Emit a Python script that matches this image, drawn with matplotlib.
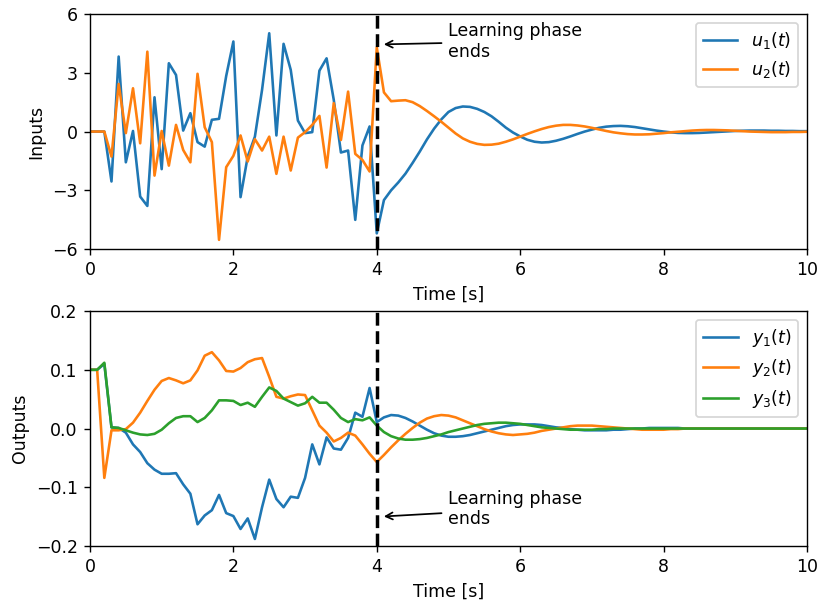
import numpy as np
import matplotlib
matplotlib.use('Agg')
import matplotlib.pyplot as plt

t = np.linspace(0, 10, 101)
t_end = 4.0

u1 = [0, 0, 0, -2.55, 3.83, -1.57, 0.03, -3.32, -3.8, 1.75,
      -1.92, 3.49, 2.89, 0.05, 0.94, -0.54, -0.77, 0.6, 0.65, 2.84,
      4.6, -3.35, -1.28, -0.26, 2.13, 5.02, -0.2, 4.48, 3.15, 0.56,
      -0.08, -0.03, 3.11, 3.74, 1.62, -1.07, -0.97, -4.51, -0.71, 0.26,
      -5.2, -3.5, -3.0, -2.6, -2.15, -1.6, -1.02, -0.4, 0.15, 0.62,
      1.0, 1.2, 1.28, 1.26, 1.16, 1.0, 0.78, 0.5, 0.2, -0.05,
      -0.25, -0.42, -0.52, -0.56, -0.54, -0.47, -0.37, -0.25, -0.12, 0.0,
      0.1, 0.19, 0.25, 0.28, 0.29, 0.27, 0.23, 0.17, 0.11, 0.05,
      0.0, -0.04, -0.07, -0.08, -0.08, -0.07, -0.05, -0.03, -0.01, 0.01,
      0.03, 0.04, 0.05, 0.05, 0.05, 0.04, 0.04, 0.03, 0.03, 0.02, 0.02]

u2 = [0, 0, 0, -1.28, 2.43, -0.08, 2.21, -0.6, 4.08, -2.25,
      0.03, -1.74, 0.34, -0.94, -1.57, 2.95, 0.22, -0.54, -5.53, -1.82,
      -1.24, -0.2, -1.53, -0.39, -0.97, -0.26, -2.16, -0.26, -1.99, -0.31,
      -0.03, 0.34, 0.8, -1.84, 1.45, -0.43, 2.04, -1.14, -1.45, -2.04,
      4.3, 2.0, 1.55, 1.58, 1.6, 1.5, 1.3, 1.05, 0.78, 0.5,
      0.2, -0.1, -0.35, -0.52, -0.63, -0.68, -0.67, -0.62, -0.52, -0.4,
      -0.26, -0.12, 0.01, 0.13, 0.23, 0.3, 0.34, 0.34, 0.31, 0.26,
      0.19, 0.11, 0.03, -0.04, -0.09, -0.13, -0.15, -0.15, -0.14, -0.11,
      -0.08, -0.04, -0.01, 0.02, 0.05, 0.07, 0.08, 0.08, 0.07, 0.06,
      0.04, 0.02, 0.0, -0.01, -0.02, -0.03, -0.03, -0.03, -0.02, -0.02, -0.01]

y1 = [0.1, 0.1, 0.11, 0.002, 0.001, -0.007, -0.027, -0.04, -0.059, -0.07,
      -0.077, -0.077, -0.076, -0.095, -0.111, -0.163, -0.148, -0.139, -0.113, -0.144,
      -0.149, -0.171, -0.153, -0.188, -0.134, -0.087, -0.12, -0.134, -0.116, -0.118,
      -0.084, -0.027, -0.061, -0.015, -0.034, -0.036, -0.016, 0.027, 0.02, 0.069,
      0.011, 0.019, 0.023, 0.022, 0.018, 0.012, 0.005, -0.002, -0.008, -0.012,
      -0.014, -0.014, -0.013, -0.011, -0.008, -0.005, -0.002, 0.001, 0.004, 0.006,
      0.007, 0.007, 0.007, 0.006, 0.004, 0.002, 0.001, -0.001, -0.002, -0.003,
      -0.003, -0.003, -0.003, -0.002, -0.002, -0.001, 0.0, 0.0, 0.001, 0.001,
      0.001, 0.001, 0.001, 0.0, 0.0, 0.0, 0.0, 0.0, 0.0, 0.0,
      0.0, 0.0, 0.0, 0.0, 0.0, 0.0, 0.0, 0.0, 0.0, 0.0, 0.0]

y2 = [0.1, 0.1, -0.084, -0.003, -0.003, -0.001, 0.01, 0.027, 0.047, 0.066,
      0.081, 0.086, 0.082, 0.077, 0.082, 0.099, 0.124, 0.13, 0.116, 0.098,
      0.097, 0.103, 0.113, 0.118, 0.12, 0.088, 0.054, 0.051, 0.055, 0.058,
      0.057, 0.031, 0.005, -0.007, -0.022, -0.016, -0.007, -0.012, -0.027, -0.043,
      -0.057, -0.045, -0.032, -0.02, -0.009, 0.001, 0.01, 0.017, 0.021, 0.023,
      0.022, 0.019, 0.014, 0.009, 0.004, -0.001, -0.005, -0.008, -0.01, -0.011,
      -0.01, -0.009, -0.007, -0.004, -0.002, 0.0, 0.002, 0.004, 0.005, 0.005,
      0.005, 0.004, 0.003, 0.002, 0.001, 0.0, -0.001, -0.002, -0.002, -0.002,
      -0.002, -0.001, -0.001, 0.0, 0.0, 0.0, 0.0, 0.0, 0.0, 0.0,
      0.0, 0.0, 0.0, 0.0, 0.0, 0.0, 0.0, 0.0, 0.0, 0.0, 0.0]

y3 = [0.1, 0.1, 0.112, 0.002, 0.001, -0.003, -0.007, -0.01, -0.011, -0.009,
      -0.002, 0.009, 0.018, 0.021, 0.021, 0.011, 0.018, 0.031, 0.048, 0.048,
      0.047, 0.04, 0.044, 0.037, 0.054, 0.07, 0.064, 0.051, 0.045, 0.039,
      0.043, 0.054, 0.044, 0.044, 0.032, 0.018, 0.011, 0.016, 0.014, 0.019,
      0.005, -0.006, -0.013, -0.017, -0.019, -0.019, -0.018, -0.016, -0.013, -0.01,
      -0.006, -0.003, 0.0, 0.003, 0.006, 0.008, 0.009, 0.01, 0.01, 0.009,
      0.008, 0.006, 0.004, 0.002, 0.001, 0.0, -0.001, -0.002, -0.002, -0.002,
      -0.002, -0.001, -0.001, 0.0, 0.0, 0.0, 0.0, 0.0, 0.0, 0.0,
      0.0, 0.0, 0.0, 0.0, 0.0, 0.0, 0.0, 0.0, 0.0, 0.0,
      0.0, 0.0, 0.0, 0.0, 0.0, 0.0, 0.0, 0.0, 0.0, 0.0, 0.0]

fig = plt.figure(figsize=(821 / 125, 604 / 125), dpi=125)
ax1 = fig.add_axes([0.1096, 0.5877, 0.8733, 0.389])
ax2 = fig.add_axes([0.1096, 0.096, 0.8733, 0.389])

ax1.plot(t, u1, label='$u_1(t)$')
ax1.plot(t, u2, label='$u_2(t)$')
ax1.axvline(t_end, color='k', linestyle='--', linewidth=2)
ax1.annotate('Learning phase\nends', xy=(4.05, 4.45), xytext=(5.0, 4.6),
             va='center', ha='left', arrowprops=dict(arrowstyle='->', color='k'))
ax1.set_xlim(0, 10)
ax1.set_ylim(-6, 6)
ax1.set_yticks([-6, -3, 0, 3, 6])
ax1.set_xlabel('Time [s]')
ax1.set_ylabel('Inputs')
ax1.legend(loc='upper right')

ax2.plot(t, y1, label='$y_1(t)$')
ax2.plot(t, y2, label='$y_2(t)$')
ax2.plot(t, y3, label='$y_3(t)$')
ax2.axvline(t_end, color='k', linestyle='--', linewidth=2)
ax2.annotate('Learning phase\nends', xy=(4.05, -0.15), xytext=(5.0, -0.137),
             va='center', ha='left', arrowprops=dict(arrowstyle='->', color='k'))
ax2.set_xlim(0, 10)
ax2.set_ylim(-0.2, 0.2)
ax2.set_yticks([-0.2, -0.1, 0.0, 0.1, 0.2])
ax2.set_xlabel('Time [s]')
ax2.set_ylabel('Outputs')
ax2.legend(loc='upper right')

fig.savefig('out.png', dpi=125)
